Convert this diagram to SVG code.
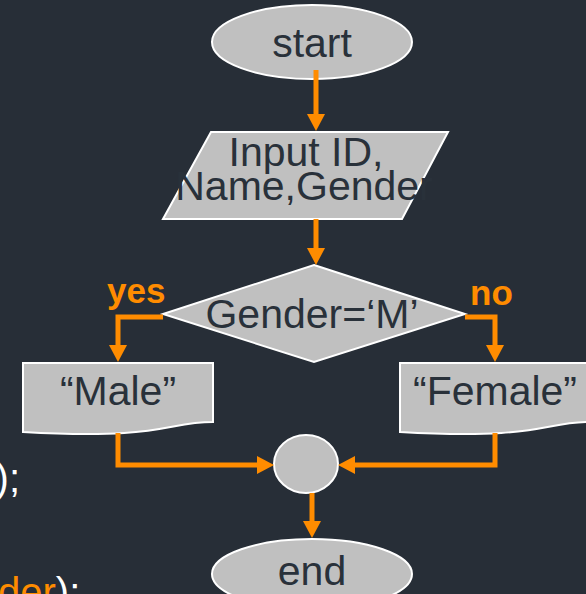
<svg xmlns="http://www.w3.org/2000/svg" width="586" height="594" viewBox="0 0 586 594">
<defs>
<style>
.shape{fill:#c0c0c0;stroke:#ffffff;stroke-width:2}
.lbl{font-family:"Liberation Sans",Arial,sans-serif;font-size:41px;fill:#29313a;text-anchor:middle}
.cond{font-family:"Liberation Sans",Arial,sans-serif;font-size:35px;font-weight:bold;fill:#ff8c00}
.conn{fill:none;stroke:#ff8c00;stroke-width:5}
.bgtext{font-family:"Liberation Sans",Arial,sans-serif;font-size:40px;fill:#ffffff}
</style>
<marker id="arr" markerUnits="userSpaceOnUse" markerWidth="18" markerHeight="18" refX="9" refY="9" orient="auto" viewBox="0 0 18 18">
<path d="M0,0 L17,9 L0,18 z" fill="#ff8c00"/>
</marker>
</defs>
<rect width="586" height="594" fill="#272e37"/>
<text class="bgtext" x="20" y="492" text-anchor="end">);</text>
<text class="bgtext" x="-2" y="606"><tspan fill="#ff8c00">der</tspan>):</text>
<g id="start">
<ellipse class="shape" cx="312" cy="42" rx="100" ry="37"/>
<text class="lbl" x="312" y="57">start</text>
</g>
<g id="input">
<polygon class="shape" points="211,132 448,132 402,219 163,219"/>
<text class="lbl" x="306" y="166">Input ID,</text>
<text class="lbl" x="304" y="200">Name,Gender</text>
</g>
<g id="decision">
<polygon class="shape" points="314,265 465,314 314,362 163,314"/>
<text class="lbl" x="312" y="328">Gender=‘M’</text>
</g>
<g id="male">
<path class="shape" d="M23,363 H213 V422 C165,422 165,440 23,432 Z"/>
<text class="lbl" x="118" y="405">“Male”</text>
</g>
<g id="female">
<path class="shape" d="M400,363 H590 V422 C542,422 542,440 400,432 Z"/>
<text class="lbl" x="495" y="405">“Female”</text>
</g>
<g id="join">
<ellipse class="shape" cx="306" cy="464" rx="32" ry="29"/>
</g>
<g id="end">
<ellipse class="shape" cx="312" cy="574" rx="100" ry="35"/>
<text class="lbl" x="312" y="585">end</text>
</g>
<g id="connectors">
<path class="conn" d="M316,70 V123" marker-end="url(#arr)"/>
<path class="conn" d="M316,219 V257" marker-end="url(#arr)"/>
<path class="conn" d="M163,317 H118 V354" marker-end="url(#arr)"/>
<path class="conn" d="M465,317 H495 V354" marker-end="url(#arr)"/>
<path class="conn" d="M118,433 V465 H266" marker-end="url(#arr)"/>
<path class="conn" d="M495,433 V465 H346" marker-end="url(#arr)"/>
<path class="conn" d="M312,493 V530" marker-end="url(#arr)"/>
<text class="cond" x="107" y="303">yes</text>
<text class="cond" x="470" y="305">no</text>
</g>
</svg>
